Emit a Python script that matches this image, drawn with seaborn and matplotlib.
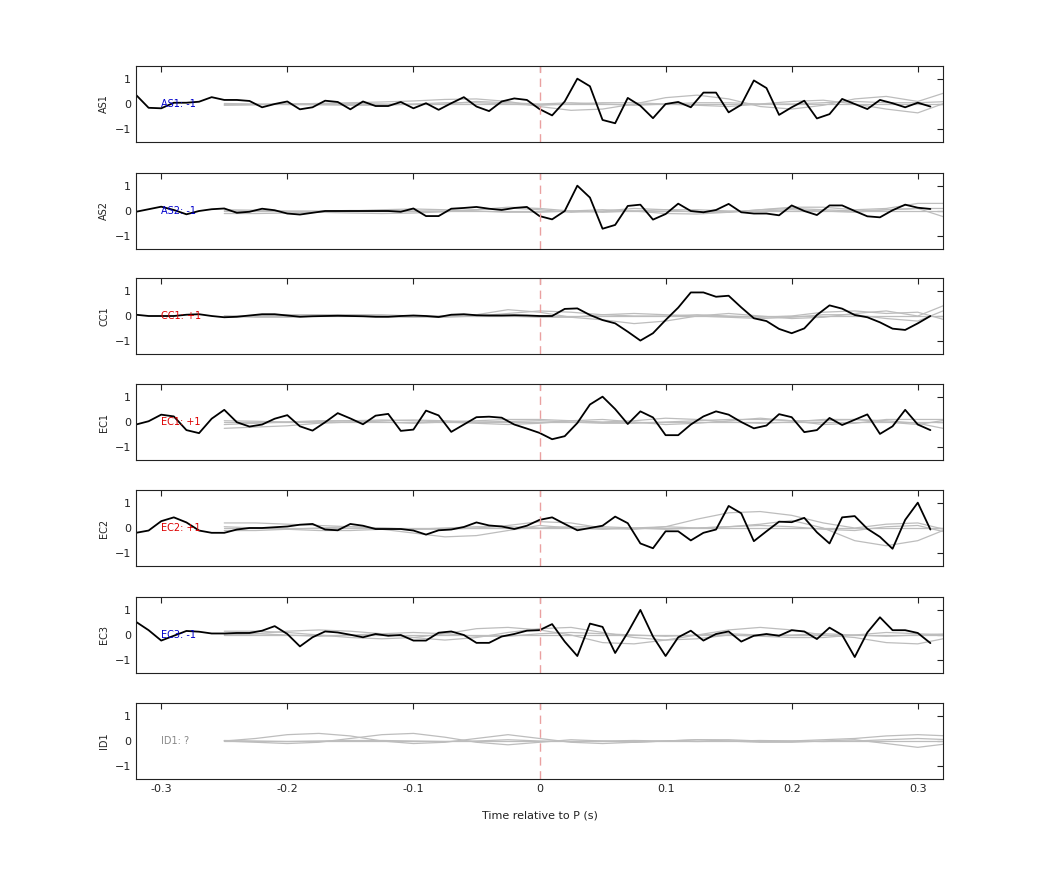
import numpy as np
import pandas as pd
import matplotlib
matplotlib.use("Agg")
import matplotlib.pyplot as plt
import seaborn as sns

sns.set_theme(style="white")
plt.rcParams['font.family'] = ['DejaVu Sans']

channels = ["AS1", "AS2", "CC1", "EC1", "EC2", "EC3", "ID1"]
labels = ["AS1: -1", "AS2: -1", "CC1: +1", "EC1: +1", "EC2: +1", "EC3: -1", "ID1: ?"]
label_colors = ["#0000cc", "#0000cc", "#dd0000", "#dd0000", "#dd0000", "#0000cc", "#888888"]

t_black = [round(-0.32 + 0.01 * i, 2) for i in range(64)]

as1 = [0.36, -0.15, -0.17, 0.05, 0.05, 0.09, 0.27, 0.16, 0.16, 0.12, -0.13, 0.0, 0.1, -0.21,
       -0.13, 0.13, 0.08, -0.21, 0.1, -0.08, -0.08, 0.08, -0.17, 0.03, -0.23, 0.03, 0.27, -0.1,
       -0.28, 0.1, 0.22, 0.16, -0.2, -0.45, 0.1, 1.0, 0.7, -0.63, -0.76, 0.24, -0.07, -0.56, 0.0,
       0.08, -0.13, 0.45, 0.45, -0.33, -0.03, 0.93, 0.63, -0.43, -0.13, 0.13, -0.57, -0.4, 0.2,
       0.0, -0.2, 0.16, 0.03, -0.13, 0.05, -0.1]
as2 = [-0.03, 0.07, 0.17, 0.04, -0.13, 0.0, 0.07, 0.1, -0.07, -0.03, 0.09, 0.03, -0.1, -0.14,
       -0.07, 0.0, 0.0, 0.0, 0.0, 0.0, 0.0, -0.03, 0.1, -0.2, -0.2, 0.09, 0.12, 0.16, 0.09, 0.04,
       0.12, 0.16, -0.2, -0.33, 0.0, 1.0, 0.53, -0.7, -0.55, 0.2, 0.25, -0.34, -0.12, 0.29, 0.0,
       -0.05, 0.04, 0.28, -0.05, -0.1, -0.1, -0.17, 0.22, 0.0, -0.16, 0.22, 0.22, 0.0, -0.21,
       -0.25, 0.03, 0.25, 0.13, 0.08]
cc1 = [0.05, 0.0, 0.0, 0.0, 0.05, 0.07, 0.0, -0.05, -0.03, 0.02, 0.07, 0.07, 0.02, -0.03, -0.01,
       0.0, 0.01, 0.0, -0.01, -0.03, -0.03, 0.0, 0.02, 0.0, -0.04, 0.05, 0.07, 0.03, 0.02, 0.02,
       0.03, 0.02, 0.0, 0.0, 0.28, 0.3, 0.04, -0.16, -0.29, -0.62, -0.97, -0.68, -0.16, 0.33, 0.93,
       0.93, 0.76, 0.8, 0.34, -0.09, -0.2, -0.51, -0.68, -0.49, 0.04, 0.42, 0.29, 0.04, -0.05,
       -0.25, -0.5, -0.55, -0.29, 0.0]
ec1 = [-0.1, 0.03, 0.29, 0.22, -0.32, -0.44, 0.13, 0.48, -0.01, -0.18, -0.1, 0.13, 0.27, -0.17,
       -0.34, -0.01, 0.35, 0.14, -0.09, 0.25, 0.32, -0.35, -0.3, 0.45, 0.26, -0.39, -0.1, 0.19,
       0.21, 0.17, -0.1, -0.26, -0.43, -0.68, -0.56, -0.04, 0.69, 1.0, 0.51, -0.08, 0.42, 0.18,
       -0.52, -0.52, -0.1, 0.22, 0.42, 0.29, 0.0, -0.25, -0.14, 0.31, 0.19, -0.4, -0.32, 0.16,
       -0.12, 0.09, 0.3, -0.47, -0.17, 0.48, -0.1, -0.32]
ec2 = [-0.19, -0.1, 0.27, 0.42, 0.22, -0.1, -0.19, -0.19, -0.06, 0.0, 0.0, 0.03, 0.06, 0.13,
       0.16, -0.06, -0.09, 0.16, 0.09, -0.04, -0.04, -0.04, -0.1, -0.26, -0.09, -0.06, 0.04, 0.22,
       0.1, 0.06, -0.04, 0.09, 0.32, 0.42, 0.16, -0.09, 0.0, 0.09, 0.45, 0.19, -0.61, -0.8, -0.13,
       -0.13, -0.49, -0.19, -0.06, 0.87, 0.58, -0.52, -0.13, 0.25, 0.23, 0.4, -0.17, -0.61, 0.42,
       0.47, -0.03, -0.35, -0.82, 0.32, 1.0, -0.06]
ec3 = [0.52, 0.19, -0.22, -0.03, 0.16, 0.13, 0.06, 0.06, 0.08, 0.08, 0.17, 0.35, 0.04, -0.45,
       -0.09, 0.14, 0.1, 0.01, -0.09, 0.04, -0.03, 0.0, -0.22, -0.22, 0.09, 0.14, 0.0, -0.31,
       -0.31, -0.06, 0.04, 0.17, 0.19, 0.43, -0.26, -0.83, 0.45, 0.32, -0.71, 0.1, 0.99, -0.06,
       -0.83, -0.09, 0.17, -0.22, 0.04, 0.14, -0.26, -0.03, 0.04, -0.03, 0.19, 0.14, -0.16, 0.29,
       0.0, -0.87, 0.1, 0.7, 0.19, 0.19, 0.08, -0.32]
black = [as1, as2, cc1, ec1, ec2, ec3, None]

t_gray = [round(-0.25 + 0.025 * i, 3) for i in range(24)]
gray = [
    [[0.0]*24,
     [-0.05, -0.03, 0.0, 0.02, 0.05, 0.08, 0.12, 0.18, 0.2, 0.1, -0.1, -0.25, -0.2, 0.0, 0.25, 0.35, 0.2, -0.1, -0.2, -0.05, 0.2, 0.3, 0.1, 0.5],
     [0.02, 0.0, -0.02, -0.03, -0.05, -0.05, 0.0, 0.05, 0.05, 0.0, -0.05, 0.0, 0.05, 0.05, 0.0, -0.05, -0.1, 0.0, 0.1, 0.15, 0.0, -0.2, -0.35, 0.1],
     [-0.03, -0.02, 0.0, 0.02, 0.02, 0.0, -0.02, 0.0, 0.1, 0.05, 0.0, 0.05, 0.0, -0.05, 0.0, 0.05, 0.05, 0.0, 0.0, 0.05, 0.1, 0.05, 0.05, 0.1]],
    [[-0.1, -0.1, -0.08, -0.05, 0.0, 0.05, 0.08, 0.05, 0.0, -0.05, -0.05, 0.0, 0.05, 0.0, -0.1, -0.12, -0.05, 0.05, 0.1, 0.05, 0.0, 0.05, 0.1, -0.3],
     [0.0, 0.0, -0.02, -0.05, -0.08, -0.1, -0.08, -0.03, 0.05, 0.12, 0.05, -0.05, 0.0, 0.1, 0.05, -0.05, -0.05, 0.05, 0.15, 0.15, 0.05, 0.1, 0.3, 0.3],
     [0.05, 0.03, 0.0, 0.0, 0.02, 0.02, 0.0, 0.0, 0.05, 0.15, 0.1, 0.0, -0.05, 0.0, 0.05, 0.05, 0.0, 0.0, 0.05, 0.0, -0.05, 0.05, 0.1, 0.1],
     [0.0]*24],
    [[0.0, -0.05, -0.05, 0.0, 0.05, 0.05, 0.0, 0.0, 0.05, 0.25, 0.15, -0.05, -0.15, -0.3, -0.2, 0.0, 0.1, 0.0, -0.1, -0.05, 0.1, 0.2, 0.0, 0.5],
     [0.0, 0.0, 0.02, 0.05, 0.05, 0.0, -0.03, -0.05, 0.0, 0.1, 0.2, 0.15, 0.05, 0.0, 0.0, 0.05, 0.0, -0.05, 0.0, 0.15, 0.2, 0.1, 0.15, -0.2],
     [0.0]*24,
     [-0.05, 0.0, 0.05, 0.05, 0.0, -0.03, -0.05, 0.0, 0.03, 0.0, -0.05, -0.05, 0.05, 0.1, 0.05, 0.0, -0.05, -0.1, -0.05, 0.05, 0.05, -0.1, -0.2, 0.3]],
    [[-0.25, -0.2, -0.15, -0.05, 0.0, 0.05, 0.08, 0.05, 0.0, 0.02, 0.05, 0.0, -0.05, -0.05, 0.0, 0.05, 0.1, 0.1, 0.05, 0.05, 0.1, 0.0, -0.1, 0.1],
     [-0.1, -0.05, 0.0, 0.05, 0.05, 0.0, -0.05, 0.0, 0.05, 0.1, 0.1, 0.05, 0.0, 0.05, 0.15, 0.1, 0.0, -0.05, 0.0, 0.1, 0.1, 0.05, -0.05, -0.3],
     [0.05, 0.03, 0.0, 0.02, 0.05, 0.08, 0.05, 0.0, -0.05, -0.1, -0.05, 0.05, 0.1, 0.0, -0.1, -0.05, 0.05, 0.15, 0.05, -0.1, -0.05, 0.1, 0.1, 0.1],
     [0.0]*24],
    [[0.2, 0.2, 0.15, 0.1, 0.05, 0.0, -0.05, -0.05, 0.0, 0.1, 0.25, 0.2, 0.0, -0.05, 0.05, 0.35, 0.6, 0.65, 0.5, 0.2, 0.0, 0.15, 0.2, -0.1],
     [0.05, 0.0, -0.05, -0.1, -0.1, -0.05, -0.2, -0.35, -0.3, -0.1, 0.1, 0.0, -0.05, 0.0, 0.05, 0.0, 0.05, 0.15, 0.3, 0.0, -0.5, -0.7, -0.5, 0.0],
     [0.0]*24,
     [-0.1, -0.1, -0.05, 0.0, 0.05, 0.0, -0.05, 0.0, 0.05, 0.05, 0.0, 0.05, 0.05, 0.0, -0.05, 0.0, 0.05, 0.1, 0.05, -0.05, -0.1, 0.05, 0.1, -0.2]],
    [[0.15, 0.15, 0.1, 0.0, -0.1, -0.15, -0.1, 0.05, 0.25, 0.3, 0.2, 0.0, -0.3, -0.35, -0.2, 0.0, 0.2, 0.3, 0.2, 0.0, -0.1, -0.3, -0.35, -0.1],
     [0.0, 0.05, 0.15, 0.2, 0.15, 0.05, -0.1, -0.2, -0.1, 0.1, 0.25, 0.3, 0.1, -0.1, -0.2, -0.15, 0.0, -0.05, -0.1, -0.1, 0.0, 0.1, 0.05, 0.0],
     [0.0]*24,
     [0.05, 0.05, 0.0, -0.05, 0.0, 0.05, 0.1, 0.05, -0.05, -0.05, 0.05, 0.1, 0.05, 0.0, -0.05, 0.0, 0.05, 0.0, 0.0, 0.05, 0.0, -0.05, 0.0, 0.05]],
    [[0.0, 0.1, 0.25, 0.3, 0.2, 0.0, -0.1, -0.05, 0.1, 0.25, 0.1, -0.05, -0.1, -0.05, 0.0, 0.05, 0.0, -0.05, -0.05, 0.0, 0.05, -0.1, -0.25, -0.1],
     [0.0, -0.05, -0.1, -0.05, 0.1, 0.25, 0.3, 0.15, -0.05, -0.15, -0.05, 0.05, 0.0, -0.05, 0.0, 0.05, 0.05, 0.0, 0.0, 0.05, 0.1, 0.2, 0.25, 0.2],
     [0.0]*24,
     [0.02, 0.0, -0.02, 0.0, 0.02, 0.02, 0.0, -0.02, 0.0, 0.05, 0.0, -0.02, 0.0, 0.02, 0.0, -0.02, 0.0, 0.02, 0.0, -0.02, 0.0, 0.05, 0.1, 0.05]],
]

fig = plt.figure(figsize=(10.42, 8.75), dpi=100)
W, H = 1042, 875
tops = [66, 173, 278, 384, 490, 597, 703]
ph = 76
left, right = 136, 943

for i, ch in enumerate(channels):
    ax = fig.add_axes([left / W, 1 - (tops[i] + ph) / H, (right - left) / W, ph / H])
    for g in gray[i]:
        sns.lineplot(x=t_gray, y=g, ax=ax, color="#bdbdbd", linewidth=0.9)
    if black[i] is not None:
        sns.lineplot(x=t_black, y=black[i], ax=ax, color="black", linewidth=1.3)
    ax.axvline(0, color="#eaa0a0", linestyle=(0, (6, 4)), linewidth=1)
    ax.set_xlim(-0.32, 0.32)
    ax.set_ylim(-1.5, 1.5)
    ax.set_yticks([-1, 0, 1])
    ax.set_xticks([-0.3, -0.2, -0.1, 0, 0.1, 0.2, 0.3])
    ax.tick_params(direction="in", top=True, right=True, length=4, labelsize=8,
                   colors="#222222", width=0.8)
    ax.set_ylabel(ch, fontsize=7, color="#222222", labelpad=4)
    ax.text(-0.30, 0, labels[i], color=label_colors[i], fontsize=7, va="center")
    for s in ax.spines.values():
        s.set_color("#222222")
        s.set_linewidth(0.8)
    if i < len(channels) - 1:
        ax.set_xticklabels([])
    else:
        ax.set_xticklabels(["-0.3", "-0.2", "-0.1", "0", "0.1", "0.2", "0.3"])
        ax.set_xlabel("Time relative to P (s)", fontsize=8, color="#222222", labelpad=12)

fig.savefig("out.png", dpi=100)
